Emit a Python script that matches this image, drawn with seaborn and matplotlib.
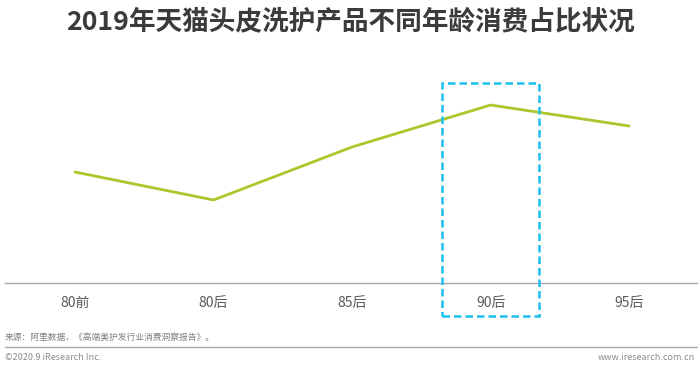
import matplotlib
matplotlib.use("Agg")
import matplotlib.pyplot as plt
import matplotlib.transforms as mtransforms
from matplotlib.patches import Rectangle
import seaborn as sns
import pandas as pd

categories = ["80前", "80后", "85后", "90后", "95后"]
values = [11.1, 8.3, 13.6, 17.8, 15.7]
highlight = "90后"
title = "2019年天猫头皮洗护产品不同年龄消费占比状况"
source = "来源：阿里数据，《高端美护发行业消费洞察报告》。"
footer_left = "©2020.9 iResearch Inc."
footer_right = "www.iresearch.com.cn"

sns.set_theme(style="white")
plt.rcParams['font.family'] = ['Noto Sans CJK SC', 'DejaVu Sans']

df = pd.DataFrame({"cat": categories, "val": values})
df["x"] = range(len(categories))

fig = plt.figure(figsize=(7, 3.7), dpi=100)
ax = fig.add_axes([5/700, 87/370, 692/700, 223/370])
sns.lineplot(data=df, x="x", y="val", ax=ax, color="#a8c82c", linewidth=2.0, sort=False)
ax.set_xlim(-0.505, 4.49)
ax.set_ylim(0, 22.3)
ax.set_xticks(df["x"])
ax.set_xticklabels(categories, fontsize=10, color="#595959")
ax.tick_params(axis="x", length=0, pad=9)
ax.set_yticks([])
ax.set_xlabel("")
ax.set_ylabel("")
for s in ["top", "right", "left"]:
    ax.spines[s].set_visible(False)
ax.spines["bottom"].set_color("#a6a6a6")
ax.spines["bottom"].set_linewidth(1.0)

# highlight box
hi = categories.index(highlight)
trans = mtransforms.blended_transform_factory(ax.transData, ax.transAxes)
box_w = 0.70
rect = Rectangle((hi - box_w/2, -33/223), box_w, (316-83)/223, transform=trans,
                 fill=False, edgecolor="#1cbff0", linewidth=1.8, linestyle=(0, (3, 1.6)),
                 clip_on=False, zorder=5)
ax.add_patch(rect)

fig.text(0.5, 1 - 22/370, title, ha="center", va="center", fontsize=19.2,
         fontweight="bold", color="#3b3b3b")
fig.text(5/700, 1 - 337/370, source, ha="left", va="center", fontsize=6.3, color="#7f7f7f")
fig.add_artist(plt.Line2D([5/700, 697/700], [1 - 347/370, 1 - 347/370],
                          transform=fig.transFigure, color="#a6a6a6", linewidth=1.0))
fig.text(5/700, 1 - 357/370, footer_left, ha="left", va="center", fontsize=6.5, color="#8c8c8c")
fig.text(695/700, 1 - 357/370, footer_right, ha="right", va="center", fontsize=6.5, color="#8c8c8c")

fig.savefig("out.png", dpi=100)
